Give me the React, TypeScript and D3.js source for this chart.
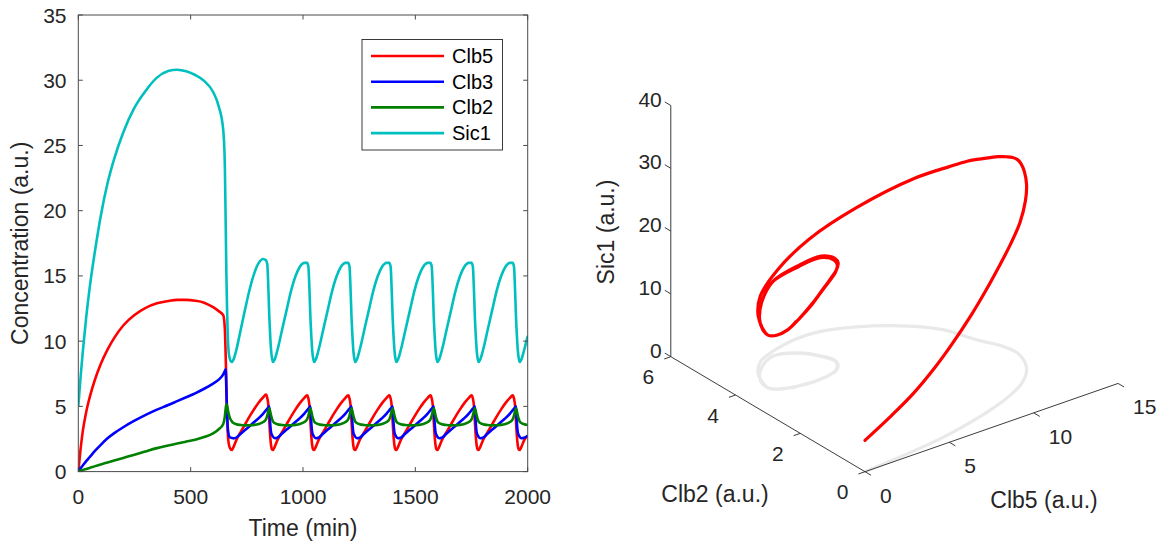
import React from "react";
import * as d3 from "d3";

// ---------- data ----------
const TIME = [
  0, 10, 20, 35, 50, 75, 100, 130, 160, 200, 250, 300, 350, 400, 440, 480, 520, 560, 600, 625, 645, 652, 656, 659, 662, 665, 669, 675,
  683, 691, 703, 723, 743, 763, 783, 803, 823, 835, 841, 846, 850, 854, 858, 862,
  866, 874, 886, 906, 926, 946, 966, 986, 1006, 1018, 1024, 1029, 1033, 1037, 1041, 1045,
  1049, 1057, 1069, 1089, 1109, 1129, 1149, 1169, 1189, 1201, 1207, 1212, 1216, 1220, 1224, 1228,
  1232, 1240, 1252, 1272, 1292, 1312, 1332, 1352, 1372, 1384, 1390, 1395, 1399, 1403, 1407, 1411,
  1415, 1423, 1435, 1455, 1475, 1495, 1515, 1535, 1555, 1567, 1573, 1578, 1582, 1586, 1590, 1594,
  1598, 1606, 1618, 1638, 1658, 1678, 1698, 1718, 1738, 1750, 1756, 1761, 1765, 1769, 1773, 1777,
  1781, 1789, 1801, 1821, 1841, 1861, 1881, 1901, 1921, 1933, 1939, 1944, 1948, 1952, 1956, 1960,
  1964, 1972, 1984, 2000,
];

const CLB5 = [
  0, 1.7, 3.1, 4.55, 5.65, 7.1, 8.25, 9.35, 10.25, 11.2, 12.0, 12.55, 12.9, 13.08, 13.16, 13.16, 13.1, 12.95, 12.6, 12.3, 12.0, 11.0, 8.8, 6.6, 4.5, 3.0, 2.2, 1.8,
  1.66, 1.9, 2.4, 3.05, 3.65, 4.25, 4.8, 5.3, 5.7, 5.9, 5.65, 5.05, 3.85, 2.7, 2.0, 1.7,
  1.66, 1.9, 2.4, 3.0, 3.6, 4.2, 4.75, 5.25, 5.65, 5.85, 5.6, 5.0, 3.8, 2.7, 2.0, 1.7,
  1.66, 1.9, 2.4, 3.0, 3.6, 4.2, 4.75, 5.25, 5.65, 5.85, 5.6, 5.0, 3.8, 2.7, 2.0, 1.7,
  1.66, 1.9, 2.4, 3.0, 3.6, 4.2, 4.75, 5.25, 5.65, 5.85, 5.6, 5.0, 3.8, 2.7, 2.0, 1.7,
  1.66, 1.9, 2.4, 3.0, 3.6, 4.2, 4.75, 5.25, 5.65, 5.85, 5.6, 5.0, 3.8, 2.7, 2.0, 1.7,
  1.66, 1.9, 2.4, 3.0, 3.6, 4.2, 4.75, 5.25, 5.65, 5.85, 5.6, 5.0, 3.8, 2.7, 2.0, 1.7,
  1.66, 1.9, 2.4, 3.0, 3.6, 4.2, 4.75, 5.25, 5.65, 5.85, 5.6, 5.0, 3.8, 2.7, 2.0, 1.7,
  1.66, 1.9, 2.4, 2.75,
];

const CLB3 = [
  0, 0.25, 0.47, 0.8, 1.1, 1.6, 2.05, 2.55, 2.95, 3.4, 3.9, 4.35, 4.75, 5.1, 5.4, 5.7, 6.0, 6.35, 6.75, 7.05, 7.45, 7.7, 7.85, 6.2, 4.5, 3.4, 2.85, 2.62,
  2.58, 2.55, 2.6, 2.9, 3.2, 3.5, 3.8, 4.1, 4.45, 4.7, 4.82, 4.92, 5.0, 3.7, 3.0, 2.8,
  2.68, 2.56, 2.6, 2.9, 3.2, 3.5, 3.8, 4.1, 4.45, 4.7, 4.82, 4.92, 5.0, 3.7, 3.0, 2.8,
  2.68, 2.56, 2.6, 2.9, 3.2, 3.5, 3.8, 4.1, 4.45, 4.7, 4.82, 4.92, 5.0, 3.7, 3.0, 2.8,
  2.68, 2.56, 2.6, 2.9, 3.2, 3.5, 3.8, 4.1, 4.45, 4.7, 4.82, 4.92, 5.0, 3.7, 3.0, 2.8,
  2.68, 2.56, 2.6, 2.9, 3.2, 3.5, 3.8, 4.1, 4.45, 4.7, 4.82, 4.92, 5.0, 3.7, 3.0, 2.8,
  2.68, 2.56, 2.6, 2.9, 3.2, 3.5, 3.8, 4.1, 4.45, 4.7, 4.82, 4.92, 5.0, 3.7, 3.0, 2.8,
  2.68, 2.56, 2.6, 2.9, 3.2, 3.5, 3.8, 4.1, 4.45, 4.7, 4.82, 4.92, 5.0, 3.7, 3.0, 2.8,
  2.68, 2.56, 2.6, 2.75,
];

const CLB2 = [
  0, 0.06, 0.12, 0.2, 0.28, 0.42, 0.55, 0.7, 0.85, 1.05, 1.3, 1.55, 1.8, 2.0, 2.15, 2.3, 2.45, 2.65, 2.93, 3.25, 3.65, 4.2, 4.85, 5.15, 5.05, 4.8, 4.45, 4.1,
  3.85, 3.72, 3.63, 3.57, 3.54, 3.55, 3.58, 3.65, 3.8, 4.0, 4.3, 4.65, 4.85, 4.6, 4.3, 4.05,
  3.85, 3.72, 3.63, 3.57, 3.54, 3.55, 3.58, 3.65, 3.8, 4.0, 4.3, 4.65, 4.85, 4.6, 4.3, 4.05,
  3.85, 3.72, 3.63, 3.57, 3.54, 3.55, 3.58, 3.65, 3.8, 4.0, 4.3, 4.65, 4.85, 4.6, 4.3, 4.05,
  3.85, 3.72, 3.63, 3.57, 3.54, 3.55, 3.58, 3.65, 3.8, 4.0, 4.3, 4.65, 4.85, 4.6, 4.3, 4.05,
  3.85, 3.72, 3.63, 3.57, 3.54, 3.55, 3.58, 3.65, 3.8, 4.0, 4.3, 4.65, 4.85, 4.6, 4.3, 4.05,
  3.85, 3.72, 3.63, 3.57, 3.54, 3.55, 3.58, 3.65, 3.8, 4.0, 4.3, 4.65, 4.85, 4.6, 4.3, 4.05,
  3.85, 3.72, 3.63, 3.57, 3.54, 3.55, 3.58, 3.65, 3.8, 4.0, 4.3, 4.65, 4.85, 4.6, 4.3, 4.05,
  3.85, 3.72, 3.63, 3.57,
];

const SIC1 = [
  5.0, 7.2, 9.2, 11.8, 14.0, 17.0, 19.6, 22.1, 24.0, 26.0, 27.9, 29.2, 30.2, 30.7, 30.8, 30.68, 30.4, 29.95, 29.1, 28.0, 26.2, 23.6, 19.0, 15.2, 12.5, 10.5, 9.2, 8.6,
  8.4, 8.6, 9.3, 10.9, 12.5, 14.0, 15.2, 16.0, 16.3, 16.2, 15.9, 14.0, 11.9, 10.4, 9.3, 8.7,
  8.4, 8.6, 9.3, 10.8, 12.3, 13.8, 14.95, 15.7, 16.0, 16.0, 15.7, 13.8, 11.8, 10.4, 9.3, 8.7,
  8.4, 8.6, 9.3, 10.8, 12.3, 13.8, 14.95, 15.7, 16.0, 16.0, 15.7, 13.8, 11.8, 10.4, 9.3, 8.7,
  8.4, 8.6, 9.3, 10.8, 12.3, 13.8, 14.95, 15.7, 16.0, 16.0, 15.7, 13.8, 11.8, 10.4, 9.3, 8.7,
  8.4, 8.6, 9.3, 10.8, 12.3, 13.8, 14.95, 15.7, 16.0, 16.0, 15.7, 13.8, 11.8, 10.4, 9.3, 8.7,
  8.4, 8.6, 9.3, 10.8, 12.3, 13.8, 14.95, 15.7, 16.0, 16.0, 15.7, 13.8, 11.8, 10.4, 9.3, 8.7,
  8.4, 8.6, 9.3, 10.8, 12.3, 13.8, 14.95, 15.7, 16.0, 16.0, 15.7, 13.8, 11.8, 10.4, 9.3, 8.7,
  8.4, 8.6, 9.3, 10.4,
];

const SERIES_NAMES = ["Clb5", "Clb3", "Clb2", "Sic1"];
const SERIES_COLORS = ["#ff0000", "#0000ff", "#008000", "#00bfbf"];
const TIME_TICKS = [0, 500, 1000, 1500, 2000];
const CONC_TICKS = [0, 5, 10, 15, 20, 25, 30, 35];
const CLB5_TICKS = [0, 5, 10, 15];
const CLB2_TICKS = [0, 2, 4, 6];
const SIC1_TICKS = [0, 10, 20, 30, 40];

const FONT = "'Liberation Sans', Arial, Helvetica, sans-serif";
const TXT = "#262626";

export default function App() {
  // ---------- left: time series ----------
  const L = { left: 78.3, right: 527.7, top: 15, bottom: 471.6 };
  const x = d3.scaleLinear().domain([0, 2000]).range([L.left, L.right]);
  const y = d3.scaleLinear().domain([0, 35]).range([L.bottom, L.top]);
  const seriesValues = [CLB5, CLB3, CLB2, SIC1];
  const line = (vals: number[]) =>
    d3
      .line<number>()
      .x((_, i) => x(TIME[i]))
      .y((d) => y(d))
      .curve(d3.curveMonotoneX)(vals) || "";

  // ---------- right: 3D phase plot (orthographic, az -37.5, el 30) ----------
  const az = (-37.5 * Math.PI) / 180;
  const el = (30 * Math.PI) / 180;
  const kx = 319;
  const ky = 290;
  const O = [865, 471.7];
  const ux = d3.scaleLinear().domain([0, 15]).range([0, 1]);
  const uy = d3.scaleLinear().domain([0, 6]).range([0, 1]);
  const uz = d3.scaleLinear().domain([0, 40]).range([0, 1]);
  const proj = (a: number, b: number, c: number): [number, number] => {
    const X = ux(a), Y = uy(b), Z = uz(c);
    const sx = Math.cos(az) * X + Math.sin(az) * Y;
    const sy = -Math.sin(el) * Math.sin(az) * X + Math.sin(el) * Math.cos(az) * Y + Math.cos(el) * Z;
    return [O[0] + kx * sx, O[1] - ky * sy];
  };
  const line3 = d3.line<[number, number]>().curve(d3.curveCatmullRom.alpha(0.5));
  const redPts = TIME.map((_, i) => proj(CLB5[i], CLB2[i], SIC1[i]));
  const grayPts = TIME.map((_, i) => proj(CLB5[i], CLB2[i], 0));

  const unit = (p: [number, number], q: [number, number]) => {
    const dx = q[0] - p[0], dy = q[1] - p[1];
    const n = Math.hypot(dx, dy);
    return [dx / n, dy / n];
  };
  const p000 = proj(0, 0, 0);
  const dirX = unit(p000, proj(15, 0, 0));
  const dirY = unit(p000, proj(0, 6, 0));
  const TL = 7;

  return (
    <svg
      width={1162}
      height={544}
      style={{ position: "absolute", left: 0, top: 0, background: "#fff" }}
      fontFamily={FONT}
    >
      <defs>
        <clipPath id="clipL">
          <rect x={L.left} y={L.top} width={L.right - L.left} height={L.bottom - L.top} />
        </clipPath>
      </defs>
      <rect x={0} y={0} width={1162} height={544} fill="#fff" />

      {/* left plot lines */}
      <g clipPath="url(#clipL)">
        {seriesValues.map((vals, k) => (
          <path key={k} d={line(vals)} fill="none" stroke={SERIES_COLORS[k]} strokeWidth={2.6} strokeLinejoin="round" />
        ))}
      </g>

      {/* left axes box */}
      <rect x={L.left} y={L.top} width={L.right - L.left} height={L.bottom - L.top} fill="none" stroke="#4a4a4a" strokeWidth={1} />
      {TIME_TICKS.map((t) => (
        <g key={"xt" + t}>
          <line x1={x(t)} x2={x(t)} y1={L.bottom} y2={L.bottom - 4.5} stroke="#4a4a4a" />
          <line x1={x(t)} x2={x(t)} y1={L.top} y2={L.top + 4.5} stroke="#4a4a4a" />
          <text x={x(t)} y={496.5} textAnchor="middle" dominantBaseline="central" fontSize={21} fill={TXT}>
            {t}
          </text>
        </g>
      ))}
      {CONC_TICKS.map((v) => (
        <g key={"yt" + v}>
          <line x1={L.left} x2={L.left + 4.5} y1={y(v)} y2={y(v)} stroke="#4a4a4a" />
          <line x1={L.right} x2={L.right - 4.5} y1={y(v)} y2={y(v)} stroke="#4a4a4a" />
          <text x={66.5} y={y(v)} textAnchor="end" dominantBaseline="central" fontSize={21} fill={TXT}>
            {v}
          </text>
        </g>
      ))}
      <text x={(L.left + L.right) / 2} y={527.5} textAnchor="middle" dominantBaseline="central" fontSize={23} fill={TXT}>
        Time (min)
      </text>
      <text
        transform={`translate(20,${(L.top + L.bottom) / 2}) rotate(-90)`}
        textAnchor="middle"
        dominantBaseline="central"
        fontSize={23}
        fill={TXT}
      >
        Concentration (a.u.)
      </text>

      {/* legend */}
      <rect x={362} y={39.5} width={140.5} height={110.5} fill="#fff" stroke="#262626" strokeWidth={0.9} />
      {SERIES_NAMES.map((name, i) => (
        <g key={name}>
          <line x1={371} x2={444} y1={56 + i * 25.7} y2={56 + i * 25.7} stroke={SERIES_COLORS[i]} strokeWidth={2.6} />
          <text x={452} y={56 + i * 25.7} dominantBaseline="central" fontSize={20} fill="#000">
            {name}
          </text>
        </g>
      ))}

      {/* 3D plot: shadow and trajectory */}
      <path d={line3(grayPts) || ""} fill="none" stroke="#e9e9e9" strokeWidth={3.2} strokeLinejoin="round" />
      <path d={line3(redPts) || ""} fill="none" stroke="#ff0000" strokeWidth={3.2} strokeLinejoin="round" strokeLinecap="round" />

      {/* 3D axes */}
      {(() => {
        const z0 = proj(0, 6, 0), z1 = proj(0, 6, 40);
        const y0 = proj(0, 0, 0), y1 = proj(0, 6, 0);
        const x0 = proj(0, 0, 0), x1 = proj(15, 0, 0);
        return (
          <g stroke="#262626" strokeWidth={0.9}>
            <line x1={z0[0]} y1={z0[1]} x2={z1[0]} y2={z1[1]} />
            <line x1={y0[0]} y1={y0[1]} x2={y1[0]} y2={y1[1]} />
            <line x1={x0[0]} y1={x0[1]} x2={x1[0]} y2={x1[1]} />
          </g>
        );
      })()}
      {SIC1_TICKS.map((v) => {
        const p = proj(0, 6, v);
        return (
          <g key={"zt" + v}>
            <line x1={p[0]} y1={p[1]} x2={p[0] + dirY[0] * TL} y2={p[1] + dirY[1] * TL} stroke="#262626" strokeWidth={0.9} />
            <text x={p[0] - 9} y={p[1] - 6.5} textAnchor="end" dominantBaseline="central" fontSize={21} fill={TXT}>
              {v}
            </text>
          </g>
        );
      })}
      {CLB2_TICKS.map((v) => {
        const p = proj(0, v, 0);
        return (
          <g key={"y3t" + v}>
            <line x1={p[0]} y1={p[1]} x2={p[0] - dirX[0] * TL} y2={p[1] - dirX[1] * TL} stroke="#262626" strokeWidth={0.9} />
            <text x={p[0] - 16.5} y={p[1] + 20} textAnchor="end" dominantBaseline="central" fontSize={21} fill={TXT}>
              {v}
            </text>
          </g>
        );
      })}
      {CLB5_TICKS.map((v) => {
        const p = proj(v, 0, 0);
        return (
          <g key={"x3t" + v}>
            <line x1={p[0]} y1={p[1]} x2={p[0] - dirY[0] * TL} y2={p[1] - dirY[1] * TL} stroke="#262626" strokeWidth={0.9} />
            <text x={p[0] + 15} y={p[1] + 23.5} textAnchor="start" dominantBaseline="central" fontSize={21} fill={TXT}>
              {v}
            </text>
          </g>
        );
      })}
      <text
        transform="translate(606,232) rotate(-90)"
        textAnchor="middle"
        dominantBaseline="central"
        fontSize={23}
        fill={TXT}
      >
        Sic1 (a.u.)
      </text>
      <text x={715} y={493.5} textAnchor="middle" dominantBaseline="central" fontSize={23} fill={TXT}>
        Clb2 (a.u.)
      </text>
      <text x={1044} y={500} textAnchor="middle" dominantBaseline="central" fontSize={23} fill={TXT}>
        Clb5 (a.u.)
      </text>
    </svg>
  );
}
